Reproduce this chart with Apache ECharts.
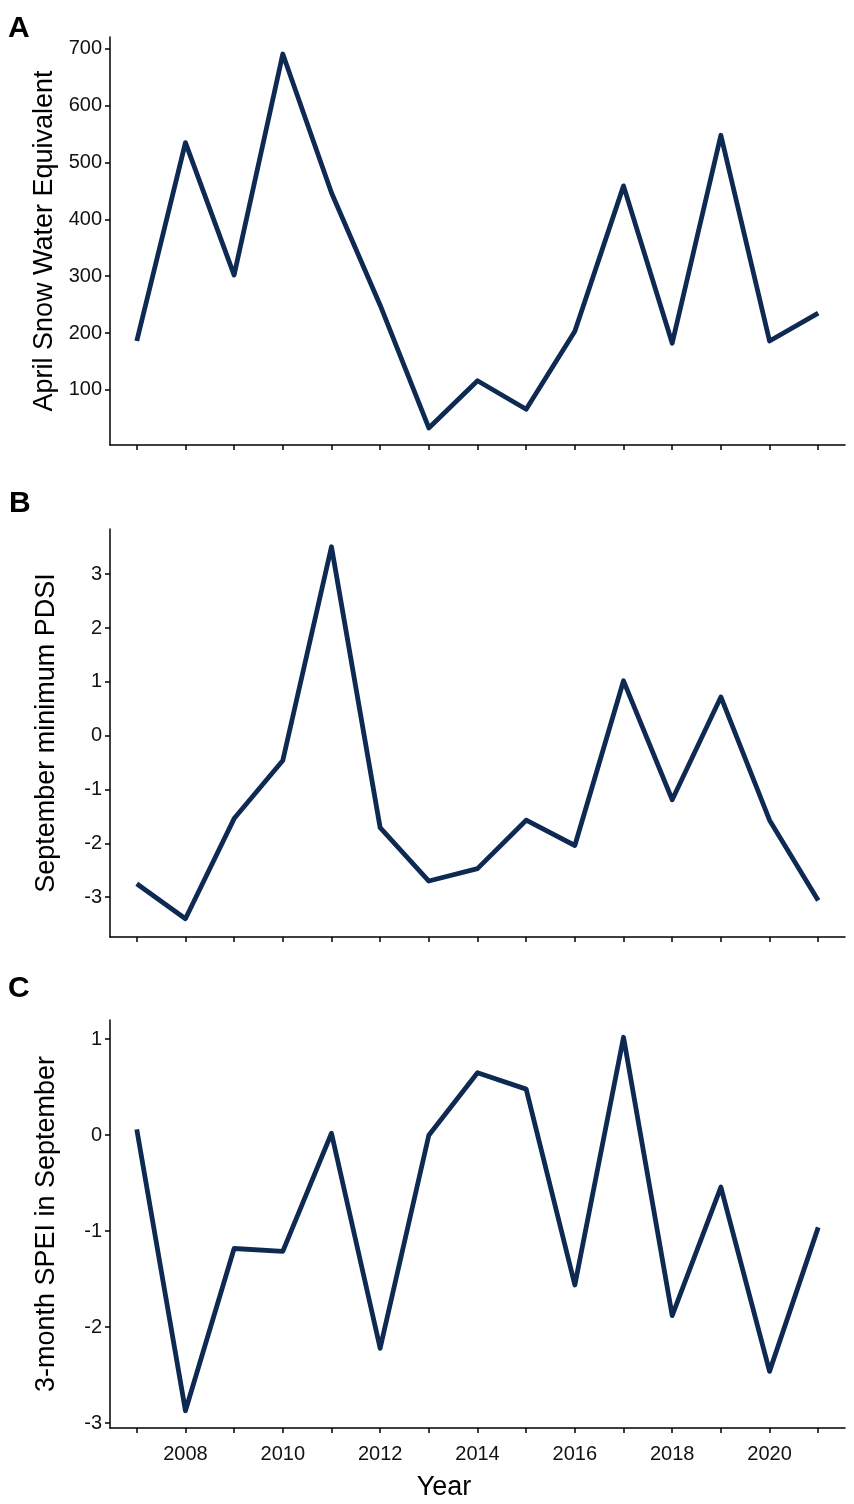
<!DOCTYPE html>
<html>
<head>
<meta charset="utf-8">
<script src="https://cdn.jsdelivr.net/npm/echarts@6.0.0/dist/echarts.min.js"></script>
<style>
    html, body { margin: 0; padding: 0; background: #fff; }
    #chart { width: 854px; height: 1504px; }
</style>
</head>
<body>
<div id="chart"></div>
<script>
const years = [2007, 2008, 2009, 2010, 2011, 2012, 2013, 2014, 2015, 2016, 2017, 2018, 2019, 2020, 2021]
const snowWater = [186, 535, 302, 691, 447, 249, 33, 116, 66, 203, 459, 182, 548, 186, 235]
const pdsiMin = [-2.75, -3.40, -1.54, -0.46, 3.51, -1.71, -2.70, -2.47, -1.57, -2.04, 1.02, -1.19, 0.72, -1.57, -3.06]
const spei3 = [0.06, -2.87, -1.18, -1.21, 0.02, -2.22, 0.00, 0.65, 0.48, -1.56, 1.02, -1.88, -0.54, -2.46, -0.96]

const yearLabels = [2008, 2010, 2012, 2014, 2016, 2018, 2020]
const sweTicks = [100, 200, 300, 400, 500, 600, 700]
const pdsiTicks = [-3, -2, -1, 0, 1, 2, 3]
const speiTicks = [-3, -2, -1, 0, 1]

const font = "'Liberation Sans', Arial, sans-serif"
const lineColor = '#0e2a52'
const axisColor = '#000'

// one panel = grid + x axis + y axis + line
const panels = [
    {top: 37, yMin: 3, yMax: 721, ticks: sweTicks, name: 'April Snow Water Equivalent', data: snowWater, showYears: false},
    {top: 529, yMin: -3.74, yMax: 3.84, ticks: pdsiTicks, name: 'September minimum PDSI', data: pdsiMin, showYears: false},
    {top: 1020, yMin: -3.05, yMax: 1.2, ticks: speiTicks, name: '3-month SPEI in September', data: spei3, showYears: true}
]

const axisLine = {show: true, onZero: false, lineStyle: {color: axisColor, width: 1.5}}
const axisTick = {show: true, length: 5, lineStyle: {color: axisColor, width: 1.5}}

const option = {
    animation: false,
    backgroundColor: '#fff',
    grid: panels.map(p => ({left: 110, width: 735, top: p.top, height: 408})),
    xAxis: panels.map((p, i) => ({
        type: 'value',
        gridIndex: i,
        min: 2006.45,
        max: 2021.55,
        axisLine: axisLine,
        axisTick: Object.assign({customValues: years}, axisTick),
        splitLine: {show: false},
        axisLabel: {
            show: p.showYears,
            customValues: yearLabels,
            formatter: v => String(v),
            margin: 16,
            color: '#111',
            fontSize: 20,
            fontFamily: font
        }
    })),
    yAxis: panels.map((p, i) => ({
        type: 'value',
        gridIndex: i,
        min: p.yMin,
        max: p.yMax,
        name: p.name,
        nameLocation: 'middle',
        nameGap: 50,
        nameTextStyle: {color: '#000', fontSize: 27, fontFamily: font},
        axisLine: axisLine,
        axisTick: Object.assign({customValues: p.ticks}, axisTick),
        splitLine: {show: false},
        axisLabel: {
            customValues: p.ticks,
            margin: 8,
            color: '#111',
            fontSize: 20,
            fontFamily: font
        }
    })),
    series: panels.map((p, i) => ({
        type: 'line',
        xAxisIndex: i,
        yAxisIndex: i,
        data: years.map((y, k) => [y, p.data[k]]),
        symbol: 'none',
        lineStyle: {color: lineColor, width: 4.8, join: 'round'}
    })),
    graphic: [
        {type: 'text', left: 8, top: 14, style: {text: 'A', font: "bold 30px 'Liberation Sans', Arial", fill: '#000'}},
        {type: 'text', left: 9, top: 489, style: {text: 'B', font: "bold 30px 'Liberation Sans', Arial", fill: '#000'}},
        {type: 'text', left: 8, top: 974, style: {text: 'C', font: "bold 30px 'Liberation Sans', Arial", fill: '#000'}},
        {type: 'text', x: 444, y: 1488, style: {text: 'Year', font: "27px 'Liberation Sans', Arial", fill: '#000', align: 'center', verticalAlign: 'middle'}}
    ]
}

const chart = echarts.init(document.getElementById('chart'))
chart.setOption(option)
</script>
</body>
</html>
